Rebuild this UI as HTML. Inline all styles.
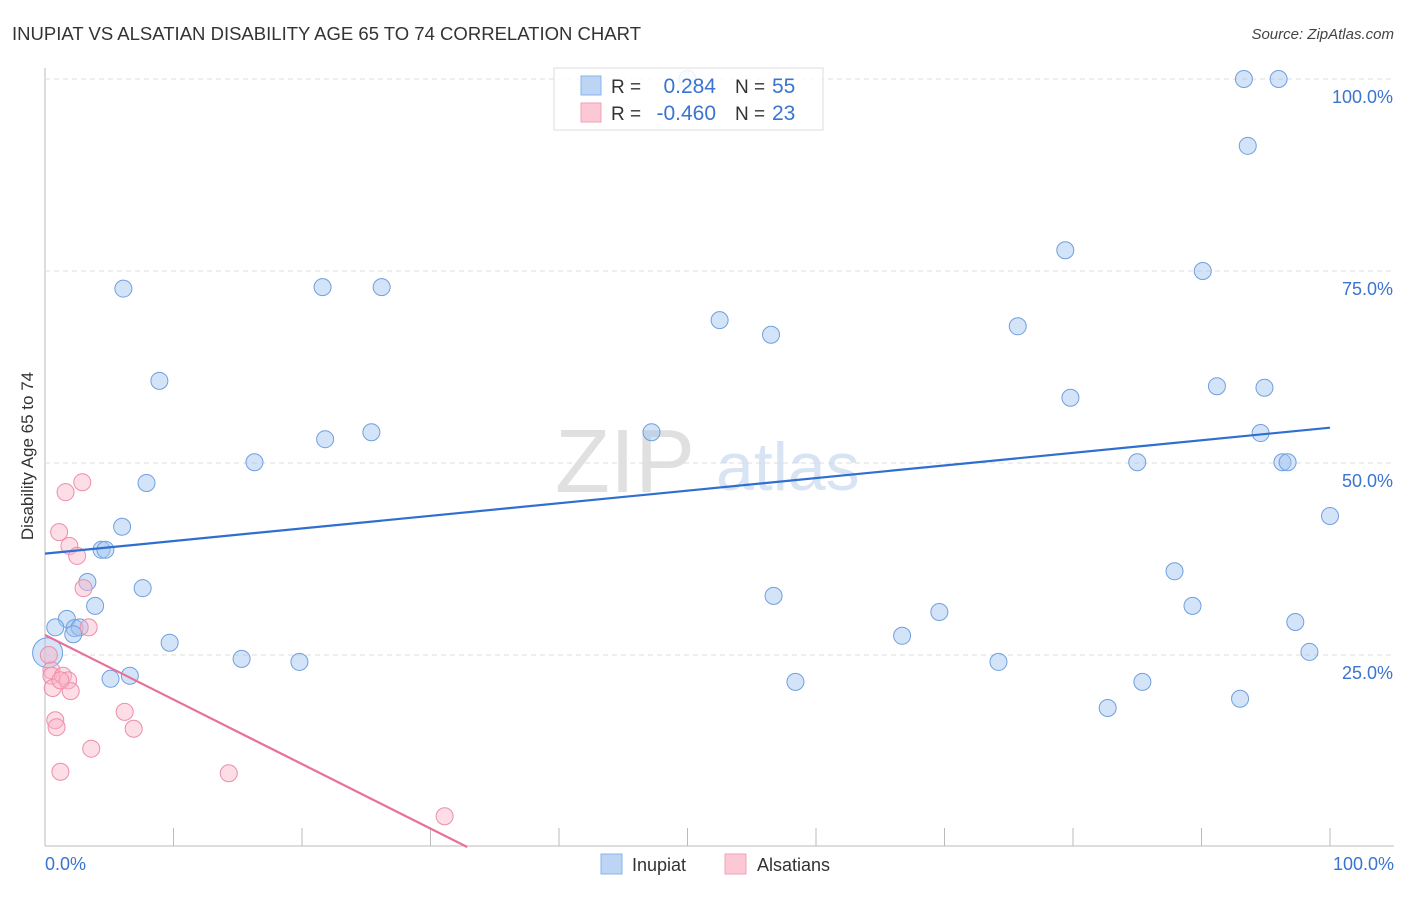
<!DOCTYPE html>
<html><head><meta charset="utf-8">
<style>
body{margin:0;background:#fff;font-family:"Liberation Sans",sans-serif;}
svg text{font-family:"Liberation Sans",sans-serif;}
</style></head>
<body>
<svg id="chart" width="1406" height="892" viewBox="0 0 1406 892" xmlns="http://www.w3.org/2000/svg">
<text x="12" y="40" font-size="18.5" fill="#333" textLength="629">INUPIAT VS ALSATIAN DISABILITY AGE 65 TO 74 CORRELATION CHART</text>
<text x="1394" y="39" font-size="15" fill="#444" font-style="italic" text-anchor="end">Source: ZipAtlas.com</text>
<text transform="translate(33,456) rotate(-90)" font-size="17" fill="#333" text-anchor="middle">Disability Age 65 to 74</text>
<g id="grid"></g>
<text x="555" y="492" font-size="90" fill="#ddd" font-family="Liberation Serif" opacity="0.9">ZIP</text>
<text x="716" y="490" font-size="68" fill="#c8daf0" opacity="0.7">atlas</text>
<g id="pts"></g>
<g id="lines"></g>
<g>
<rect x="554" y="68" width="269" height="62" fill="#fff" fill-opacity="0.85" stroke="#ddd"/>
<rect x="581" y="76" width="20" height="19" fill="#bcd5f5" stroke="#8ab4ea"/>
<rect x="581" y="103" width="20" height="19" fill="#fcc8d6" stroke="#f0a0b8"/>
<text x="611" y="93" font-size="19" fill="#333">R =</text>
<text x="716" y="93" font-size="21" fill="#3a74d0" text-anchor="end">0.284</text>
<text x="735" y="93" font-size="19" fill="#333">N =</text>
<text x="772" y="93" font-size="21" fill="#3a74d0">55</text>
<text x="611" y="120" font-size="19" fill="#333">R =</text>
<text x="716" y="120" font-size="21" fill="#3a74d0" text-anchor="end">-0.460</text>
<text x="735" y="120" font-size="19" fill="#333">N =</text>
<text x="772" y="120" font-size="21" fill="#3a74d0">23</text>
</g>
<g>
<rect x="601" y="854" width="21" height="20" fill="#bcd5f5" stroke="#8ab4ea"/>
<text x="632" y="871" font-size="18" fill="#333">Inupiat</text>
<rect x="725" y="854" width="21" height="20" fill="#fcc8d6" stroke="#f0a0b8"/>
<text x="757" y="871" font-size="18" fill="#333">Alsatians</text>
</g>
<text x="45" y="870" font-size="18" fill="#3a74d0">0.0%</text>
<text x="1394" y="870" font-size="18" fill="#3a74d0" text-anchor="end">100.0%</text>
</svg>
<script>
const yTicks=[25,50,75,100];
const yTickLabels=["25.0%","50.0%","75.0%","100.0%"];
const inupiatX=[6.1,21.6,26.2,8.9,16.3,21.8,25.4,7.9,6.0,4.4,4.7,7.6,3.3,3.9,1.7,0.8,2.3,2.7,2.2,0.2,9.7,15.3,19.8,5.1,6.6,50.0,52.5,56.5,47.2,56.7,58.4,66.7,69.6,74.2,75.7,79.4,79.8,85.0,82.7,85.4,87.9,89.3,90.1,91.2,93.3,93.6,96.0,94.9,94.6,96.3,96.7,97.3,98.4,93.0,100];
const inupiatY=[72.7,72.9,72.9,60.7,50.1,53.1,54.0,47.4,41.7,38.7,38.7,33.7,34.5,31.4,29.7,28.6,28.5,28.6,27.7,25.3,26.6,24.5,24.1,21.9,22.3,100,68.6,66.7,54.0,32.7,21.5,27.5,30.6,24.1,67.8,77.7,58.5,50.1,18.1,21.5,35.9,31.4,75.0,60.0,100,91.3,100,59.8,53.9,50.1,50.1,29.3,25.4,19.3,43.1];
const alsatianX=[1.6,2.9,1.1,1.9,2.5,3.0,3.4,0.3,0.5,0.5,1.4,1.8,0.6,2.0,0.8,0.9,6.2,6.9,3.6,1.2,14.3,31.1,1.2];
const alsatianY=[46.2,47.5,41.0,39.2,37.9,33.7,28.6,25.0,23.0,22.3,22.3,21.7,20.7,20.3,16.5,15.6,17.6,15.4,12.8,9.8,9.6,4.0,21.7];
const inupiatTrend=[38.2,54.6];   // y at x=0, x=100
const alsatianTrend=[27.6,-0.84]; // intercept, slope per %
const X0=45,X1=1330,Y0=847,Y100=79;
const sx=v=>X0+(X1-X0)*v/100, sy=v=>Y0+(Y100-Y0)*v/100;
const NS="http://www.w3.org/2000/svg";
function mk(t,a,p){const e=document.createElementNS(NS,t);for(const k in a)e.setAttribute(k,a[k]);p.appendChild(e);return e;}
const grid=document.getElementById('grid');
mk('line',{x1:45,y1:68,x2:45,y2:846,stroke:'#bbb'},grid);
mk('line',{x1:45,y1:846,x2:1394,y2:846,stroke:'#bbb'},grid);
for(let i=1;i<=10;i++){const x=sx(i*10);const l=mk('line',{x1:x,y1:828,x2:x,y2:846,stroke:'#bbb'},grid);

}
yTicks.forEach((v,i)=>{const y=sy(v);
const g=mk('line',{x1:45,y1:y,x2:1394,y2:y,stroke:'#ddd','stroke-dasharray':'5,4'},grid);


const t=mk('text',{x:1393,y:y+24,'font-size':18,fill:'#3a74d0','text-anchor':'end'},grid);t.textContent=yTickLabels[i];

});
const pts=document.getElementById('pts');
inupiatX.forEach((v,i)=>{const big=(i===19);
const c=mk('circle',{cx:sx(v),cy:sy(inupiatY[i]),r:big?15:8.5,fill:'rgba(160,196,240,0.45)',stroke:'#6f9fe0','stroke-width':1},pts);

});
alsatianX.forEach((v,i)=>{
const c=mk('circle',{cx:sx(v),cy:sy(alsatianY[i]),r:8.5,fill:'rgba(250,180,200,0.45)',stroke:'#ec8eaa','stroke-width':1},pts);

});
const lines=document.getElementById('lines');
const bl=mk('line',{x1:sx(0),y1:sy(inupiatTrend[0]),x2:sx(100),y2:sy(inupiatTrend[1]),stroke:'#2f6fd0','stroke-width':2.2},lines);


const xEnd=-alsatianTrend[0]/alsatianTrend[1];
const pl=mk('line',{x1:sx(0),y1:sy(alsatianTrend[0]),x2:sx(xEnd),y2:sy(0),stroke:'#e8709a','stroke-width':2.2},lines);


</script>
</body></html>
